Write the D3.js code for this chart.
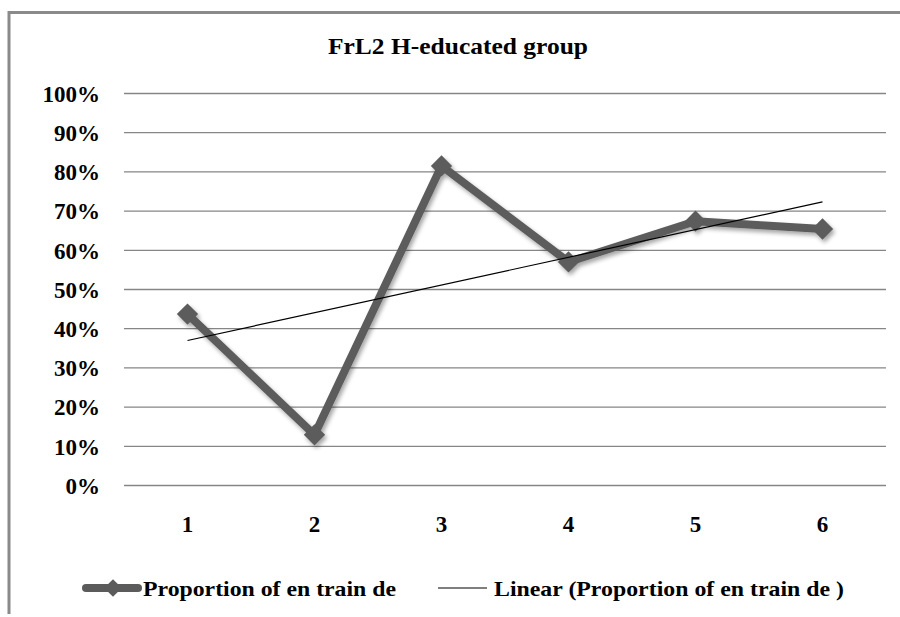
<!DOCTYPE html>
<html>
<head>
<meta charset="utf-8">
<script src="https://cdn.jsdelivr.net/npm/d3@7"></script>
<style>
  html, body { margin: 0; padding: 0; background: #fff; }
  svg { display: block; }
</style>
</head>
<body>
<svg id="chart" width="900" height="617"></svg>
<script>
const title = "FrL2 H-educated group";
const categories = ["1", "2", "3", "4", "5", "6"];
const values = [0.436, 0.128, 0.814, 0.569, 0.673, 0.653];
const yTicks = [0, 0.1, 0.2, 0.3, 0.4, 0.5, 0.6, 0.7, 0.8, 0.9, 1.0];
const seriesName = "Proportion of en train de";
const trendName = "Linear (Proportion of en train de )";

(function () {
const FONT = "'Liberation Serif'";
const svg = d3.select("#chart");
const pL = 124, pR = 886, pT = 93, pB = 485;
const styleText = sel => sel.style("font-family", FONT).style("font-weight", "bold").attr("fill", "#000");

// frame (top and left edges visible)
svg.append("line").attr("x1", 8).attr("x2", 900).attr("y1", 12.5).attr("y2", 12.5)
  .attr("stroke", "#8a8a8a").attr("stroke-width", 3);
svg.append("line").attr("x1", 9).attr("x2", 9).attr("y1", 11).attr("y2", 614)
  .attr("stroke", "#8a8a8a").attr("stroke-width", 3);

const x = d3.scaleBand().domain(categories).range([pL, pR]);
const y = d3.scaleLinear().domain([0, 1]).range([pB, pT]);
const cx = c => x(c) + x.bandwidth() / 2;

const defs = svg.append("defs");
const f = defs.append("filter").attr("id", "shadow").attr("x", "-20%").attr("y", "-20%").attr("width", "140%").attr("height", "140%");
f.append("feDropShadow").attr("dx", 2).attr("dy", 3).attr("stdDeviation", 2)
  .attr("flood-color", "#000").attr("flood-opacity", 0.35);

// title
svg.append("text").attr("x", 458).attr("y", 54).attr("text-anchor", "middle")
  .call(styleText).style("font-size", "24px")
  .attr("textLength", 260).attr("lengthAdjust", "spacingAndGlyphs").text(title);

// y axis with gridlines
const yAxis = d3.axisLeft(y).tickValues(yTicks).tickFormat(d3.format(".0%"))
  .tickSize(-(pR - pL)).tickPadding(24);
const gy = svg.append("g").attr("transform", `translate(${pL},0)`).call(yAxis);
gy.select(".domain").remove();
gy.selectAll(".tick line").attr("stroke", "#868686").attr("stroke-width", 1.3);
gy.selectAll(".tick text").attr("dy", "0.36em").call(styleText).style("font-size", "23px");

// x axis labels
const xAxis = d3.axisBottom(x).tickSize(0).tickPadding(0);
const gx = svg.append("g").attr("transform", `translate(0,${pB})`).call(xAxis);
gx.select(".domain").remove();
gx.selectAll(".tick text").attr("y", 47).attr("dy", 0).call(styleText).style("font-size", "23px");

// trendline (least squares on the series)
const xs = categories.map((c, i) => i + 1);
const mx = d3.mean(xs), my = d3.mean(values);
const slope = d3.sum(xs.map((v, i) => (v - mx) * (values[i] - my))) / d3.sum(xs.map(v => (v - mx) ** 2));
const icpt = my - slope * mx;

// series line
const line = d3.line().x((d, i) => cx(categories[i])).y(d => y(d));
const gs = svg.append("g").attr("filter", "url(#shadow)");
gs.append("path").datum(values).attr("d", line).attr("fill", "none")
  .attr("stroke", "#5b5b5b").attr("stroke-width", 8).attr("stroke-linejoin", "round");
const diamond = d3.symbol().type(d3.symbolDiamond2).size(290);
gs.selectAll("path.m").data(values).enter().append("path").attr("class", "m")
  .attr("d", diamond).attr("transform", (d, i) => `translate(${cx(categories[i])},${y(d)})`)
  .attr("fill", "#5b5b5b");

svg.append("line")
  .attr("x1", cx(categories[0])).attr("y1", y(icpt + slope * xs[0]))
  .attr("x2", cx(categories[categories.length - 1])).attr("y2", y(icpt + slope * xs[xs.length - 1]))
  .attr("stroke", "#000").attr("stroke-width", 1.2);

// legend
const ly = 588;
const lg = svg.append("g");
lg.append("line").attr("x1", 86).attr("x2", 138).attr("y1", ly).attr("y2", ly)
  .attr("stroke", "#5b5b5b").attr("stroke-width", 8).attr("stroke-linecap", "round");
lg.append("path").attr("d", d3.symbol().type(d3.symbolDiamond2).size(200)).attr("transform", `translate(113,${ly})`).attr("fill", "#5b5b5b");
lg.append("text").attr("x", 143).attr("y", ly + 8).call(styleText).style("font-size", "22px")
  .attr("textLength", 253).attr("lengthAdjust", "spacingAndGlyphs").text(seriesName);
lg.append("line").attr("x1", 438).attr("x2", 487).attr("y1", ly).attr("y2", ly)
  .attr("stroke", "#000").attr("stroke-width", 1.2);
lg.append("text").attr("x", 494).attr("y", ly + 8).call(styleText).style("font-size", "22px")
  .attr("textLength", 350).attr("lengthAdjust", "spacingAndGlyphs").text(trendName);
})();
</script>
</body>
</html>
